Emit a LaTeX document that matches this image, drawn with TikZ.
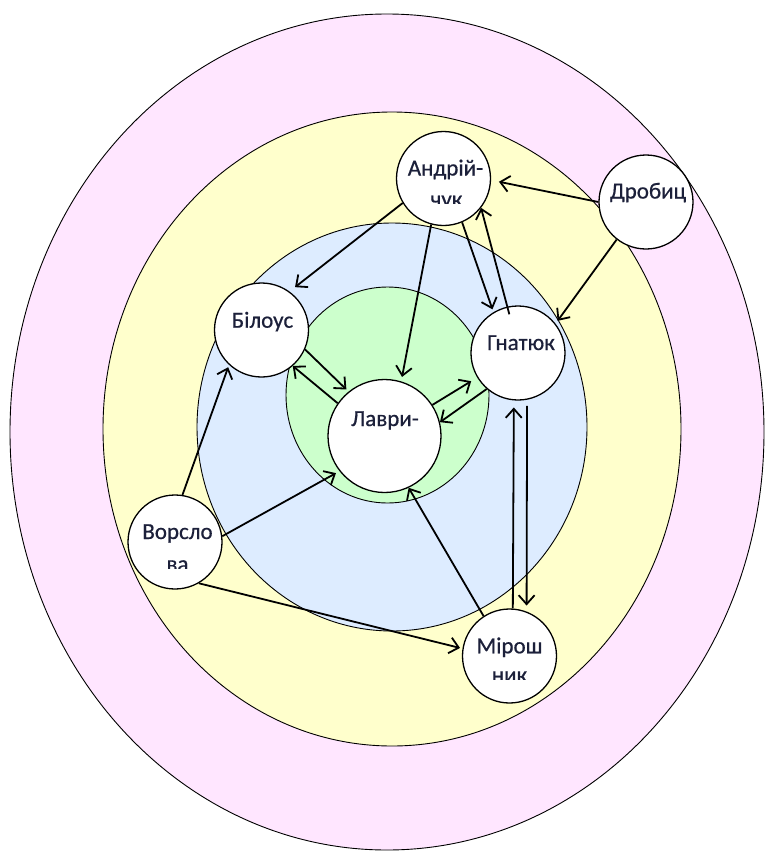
\documentclass[tikz,border=0pt]{standalone}
\usepackage{fontspec}
\setmainfont{Carlito}
\newfontface\lblface{Carlito}[FakeBold=0.6]
\usetikzlibrary{arrows.meta}
\definecolor{pinkf}{RGB}{255,230,255}
\definecolor{yellowf}{RGB}{255,255,204}
\definecolor{bluef}{RGB}{221,236,255}
\definecolor{greenf}{RGB}{204,255,204}
\definecolor{txt}{RGB}{28,32,58}
\begin{document}
\begin{tikzpicture}[x=1pt,y=-1pt,
  ring/.style={draw=black, line width=0.9pt},
  person/.style={circle, draw=black, fill=white, line width=1.3pt, inner sep=0pt, minimum size=94pt},
  lbl/.style={anchor=base, inner sep=0pt, text=txt, font=\lblface\fontsize{23}{27}\selectfont},
  rel/.style={line width=1.8pt, -{Straight Barb[length=9pt,width=16pt]}}]
\useasboundingbox (0,0) rectangle (766,854);
% zones
\draw[ring, fill=pinkf] (387,432) ellipse [x radius=377pt, y radius=418pt];
\draw[ring, fill=yellowf] (392,429) ellipse [x radius=289pt, y radius=317pt];
\draw[ring, fill=bluef] (392,427) ellipse [x radius=195pt, y radius=204pt];
\draw[ring, fill=greenf] (387.5,395) ellipse [x radius=101.5pt, y radius=108pt];
% persons
\node[person] (A) at (443.5,178.5) {};
\node[person] (D) at (646,202) {};
\node[person] (B) at (261.5,330) {};
\node[person, minimum size=113pt] (L) at (384.5,436) {};
\node[person] (G) at (518,353) {};
\node[person] (V) at (175,542) {};
\node[person] (M) at (509.5,656) {};
% relations
\draw[rel, shorten >=8pt] (D.180) -- (A.-2);
\draw[rel, shorten >=3.5pt] (D.232) -- (G.38);
\draw[rel, shorten >=7pt] (A.211) -- (B.54);
\draw[rel, shorten >=4.5pt] (A.255) -- (L.73);
\draw[rel, shorten >=3pt] (A.293) -- (G.121);
\draw[rel, shorten <=-8pt] (G.103) -- (A.-38);
\draw[rel, shorten >=3pt] (B.-24) -- (L.129);
\draw[rel] (L.145) -- (B.-49);
\draw[rel, shorten >=7pt] (L.33) -- (G.211);
\draw[rel] (G.229) -- (L.14);
\draw[rel, shorten >=7pt] (M.86) -- (G.265);
\draw[rel, shorten <=6pt, shorten >=6pt] (G.-79) -- (M.69);
\draw[rel] (M.123) -- (L.-65);
\draw[rel, shorten >=2.5pt] (V.81) -- (B.227);
\draw[rel, shorten >=4pt] (V.7) -- (L.218);
\draw[rel, shorten >=2.5pt] (V.-60) -- (M.171);
% labels
\node[lbl] (At) at (445.5,175.5) {Андрій-};
\begin{scope}
  \clip (395,180) rectangle (492,203.3);
  \node[lbl] (At2) at (446.5,206.7) {чук};
\end{scope}
\node[lbl] (Dt) at (648,198.5) {Дробиц};
\node[lbl] (Bt) at (262.5,327.7) {Білоус};
\node[lbl] (Gt) at (521,350) {Гнатюк};
\node[lbl] (Lt) at (385,426) {Лаври-};
\node[lbl] (Vt) at (177.5,539) {Ворсло};
\begin{scope}
  \clip (128,545) rectangle (222,568.3);
  \node[lbl] (Vt2) at (177.5,571.4) {ва};
\end{scope}
\node[lbl] (Mt) at (509.5,653.3) {Мірош};
\begin{scope}
  \clip (462,660) rectangle (557,679.3);
  \node[lbl] (Mt2) at (509.5,682.4) {ник};
\end{scope}
\end{tikzpicture}
\end{document}
